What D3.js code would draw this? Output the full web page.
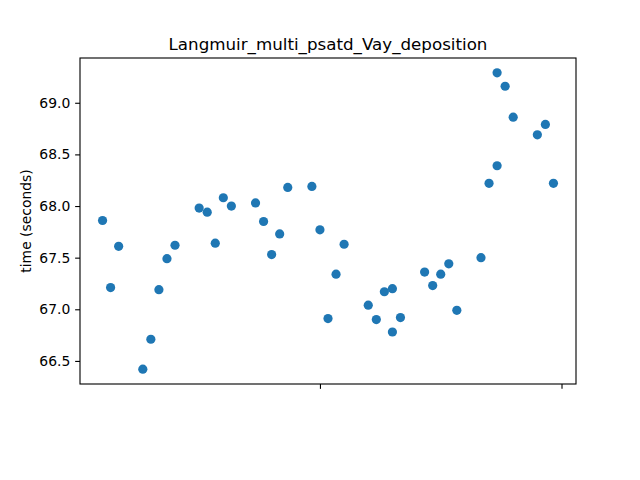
<!DOCTYPE html>
<html>
<head>
<meta charset="utf-8">
<script src="https://cdn.jsdelivr.net/npm/d3@7"></script>
<style>
  html, body { margin: 0; padding: 0; background: #fff; }
  svg { display: block; font-family: "DejaVu Sans", sans-serif; }
</style>
</head>
<body>
<svg id="chart" width="640" height="480"></svg>
<script>
const title = "Langmuir_multi_psatd_Vay_deposition";
const yLabel = "time (seconds)";
const dates = [
  "2022-10-05","2022-10-06","2022-10-07",
  "2022-10-10","2022-10-11","2022-10-12","2022-10-13","2022-10-14",
  "2022-10-17","2022-10-18","2022-10-19","2022-10-20","2022-10-21",
  "2022-10-24","2022-10-25","2022-10-26","2022-10-27","2022-10-28",
  "2022-10-31","2022-11-01","2022-11-02","2022-11-03","2022-11-04",
  "2022-11-07","2022-11-08","2022-11-09","2022-11-10","2022-11-10","2022-11-11",
  "2022-11-14","2022-11-15","2022-11-16","2022-11-17","2022-11-18",
  "2022-11-21","2022-11-22","2022-11-23","2022-11-23","2022-11-24","2022-11-25",
  "2022-11-28","2022-11-29","2022-11-30"
];
const times = [
  67.86, 67.21, 67.61,
  66.42, 66.71, 67.19, 67.49, 67.62,
  67.98, 67.94, 67.64, 68.08, 68.00,
  68.03, 67.85, 67.53, 67.73, 68.18,
  68.19, 67.77, 66.91, 67.34, 67.63,
  67.04, 66.90, 67.17, 67.20, 66.78, 66.92,
  67.36, 67.23, 67.34, 67.44, 66.99,
  67.50, 68.22, 69.29, 68.39, 69.16, 68.86,
  68.69, 68.79, 68.22
];
const xTickDates = ["2022-11-01", "2022-12-01"];
const xTickLabels = ["", ""];
const yTicks = [66.5, 67.0, 67.5, 68.0, 68.5, 69.0];

const parse = d3.utcParse("%Y-%m-%d");
const data = dates.map((d, i) => ({ date: parse(d), t: times[i] }));

const margin = { left: 80, top: 58, right: 64, bottom: 96 };
const W = 640, H = 480;
const iw = W - margin.left - margin.right;
const ih = H - margin.top - margin.bottom;

const svg = d3.select("#chart");
const g = svg.append("g").attr("transform", `translate(${margin.left},${margin.top})`);

const xExt = d3.extent(data, d => +d.date);
const xPad = (xExt[1] - xExt[0]) * 0.05;
const x = d3.scaleUtc().domain([new Date(xExt[0] - xPad), new Date(xExt[1] + xPad)]).range([0, iw]);
const yExt = d3.extent(data, d => d.t);
const yPad = (yExt[1] - yExt[0]) * 0.05;
const y = d3.scaleLinear().domain([yExt[0] - yPad, yExt[1] + yPad]).range([ih, 0]);

const tickLen = 4.86;
const xAxis = d3.axisBottom(x)
  .tickValues(xTickDates.map(parse))
  .tickFormat((d, i) => xTickLabels[i])
  .tickSize(tickLen).tickSizeOuter(0);
const yAxis = d3.axisLeft(y)
  .tickValues(yTicks)
  .tickFormat(d3.format(".1f"))
  .tickSize(tickLen).tickSizeOuter(0).tickPadding(4.86);

const gx = g.append("g").attr("transform", `translate(0,${ih})`).call(xAxis);
const gy = g.append("g").call(yAxis);
[gx, gy].forEach(a => {
  a.select(".domain").remove();
  a.selectAll(".tick line").attr("stroke", "#000").attr("stroke-width", 1.11);
  a.selectAll(".tick text").attr("fill", "#000").style("font-size", "13.9px").style("font-family", "DejaVu Sans, sans-serif");
});

g.append("g").selectAll("circle").data(data).enter().append("circle")
  .attr("cx", d => x(d.date))
  .attr("cy", d => y(d.t))
  .attr("r", 4.6)
  .attr("fill", "#1f77b4");

g.append("rect").attr("x", 0).attr("y", 0).attr("width", iw).attr("height", ih)
  .attr("fill", "none").attr("stroke", "#000").attr("stroke-width", 1.11);

svg.append("text")
  .attr("x", margin.left + iw / 2).attr("y", margin.top - 8.3)
  .attr("text-anchor", "middle")
  .style("font-size", "16.7px")
  .text(title);

svg.append("text")
  .attr("transform", `translate(31,${margin.top + ih / 2}) rotate(-90)`)
  .attr("text-anchor", "middle")
  .style("font-size", "13.9px")
  .text(yLabel);
</script>
</body>
</html>
